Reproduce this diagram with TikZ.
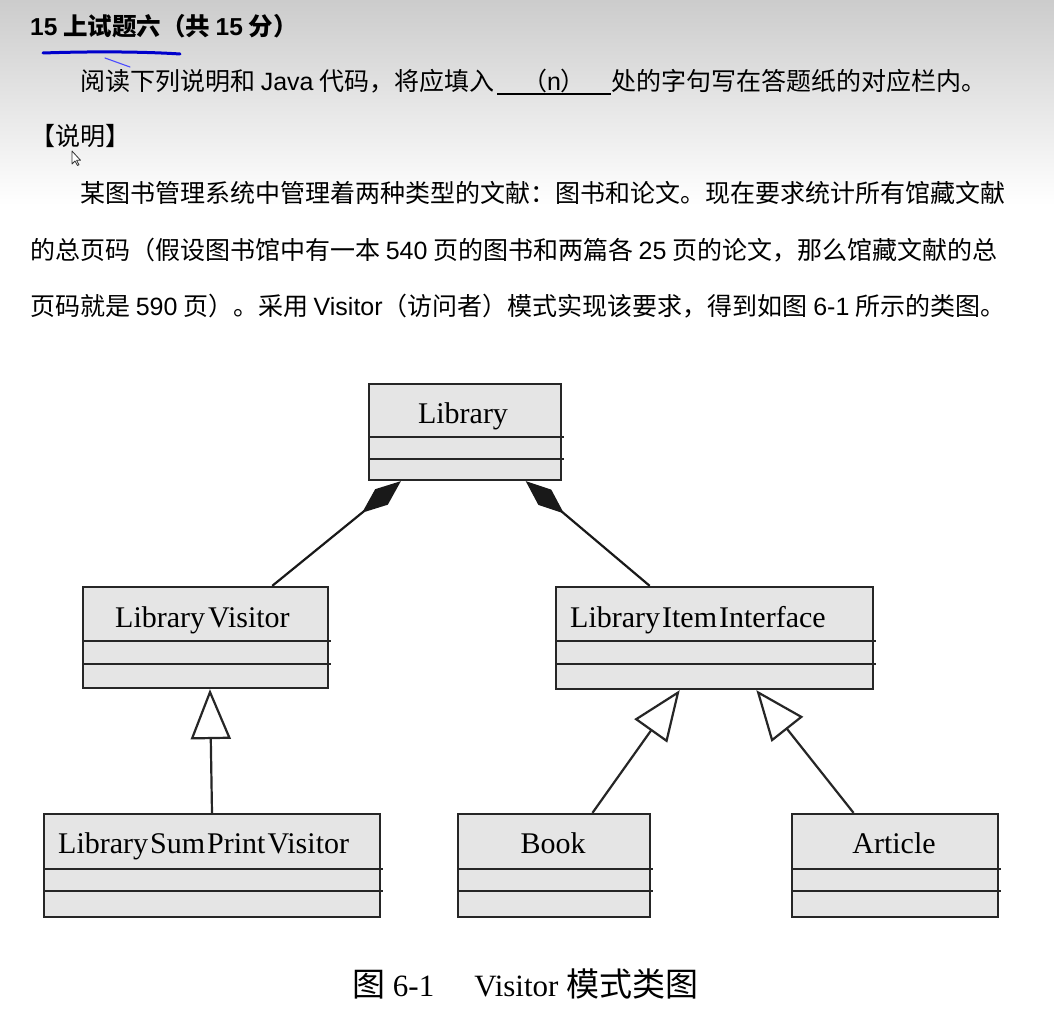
\documentclass[tikz,border=0pt]{standalone}
\usepackage{fontspec}
\setmainfont{Liberation Serif}
\newfontfamily\cjk{Noto Sans CJK SC}
\newfontfamily\lat{Liberation Sans}
\usetikzlibrary{arrows.meta,calc}
\newcommand\mytx{\cjk\fontsize{25}{25}\selectfont}
\newcommand\clsfont{\fontsize{30}{30}\selectfont}
\begin{document}
\begin{tikzpicture}[x=1pt,y=-1pt,
  cls/.style={draw=black!85, line width=2.3pt, fill=gray!20, inner sep=0pt},
  sepline/.style={draw=black!85, line width=2.3pt},
  lbl/.style={inner sep=0pt, anchor=base, font=\clsfont},
  txt/.style={inner sep=0pt, anchor=base west},
  comp/.style={draw=black!90, line width=2.2pt, -{Diamond[length=50pt,width=20pt]}},
  inh/.style={draw=black!85, line width=2.2pt, -{Triangle[open,length=50pt,width=40pt,fill=white]}}]
\useasboundingbox (0,0) rectangle (1054,1030);
\fill[white] (0,0) rectangle (1054,1030);
\shade[top color=gray!40, bottom color=white] (0,0) rectangle (1054,205);

% header text
\node[txt] (title) at (30,36) {\cjk\bfseries\fontsize{24.5}{24.5}\selectfont{\lat 15} 上试题六（共 {\lat 15} 分）};
\draw[blue!80!black, line width=3pt, line cap=round] (43,53) .. controls (100,51) and (150,52) .. (180,54);
\draw[blue!70, line width=1.1pt, line cap=round] (105,58) -- (130,67);
\node[txt] (intro) at (80,91) {\mytx 阅读下列说明和 {\lat Java} 代码，将应填入};
\node[inner sep=0pt, anchor=base] (blank) at (554,91) {\mytx （{\lat n}）};
\draw[black, line width=1.8pt] (497,94) -- (611,94);
\node[txt] (intro2) at (611,91) {\mytx 处的字句写在答题纸的对应栏内。};
\node[txt] (shuoming) at (30,146) {\mytx 【说明】};
\draw[fill=white, draw=black!80, line width=0.8pt, line join=round]
  (72,151) -- (72,164) -- (75,161) -- (77.5,165.5) -- (79,164.8) -- (76.6,160.3) -- (80.5,160.3) -- cycle;
\node[txt] (p1) at (80,202) {\mytx 某图书管理系统中管理着两种类型的文献：图书和论文。现在要求统计所有馆藏文献};
\node[txt] (p2) at (30,259) {\mytx 的总页码（假设图书馆中有一本 {\lat 540} 页的图书和两篇各 {\lat 25} 页的论文，那么馆藏文献的总};
\node[txt] (p3) at (30,315) {\mytx 页码就是 {\lat 590} 页）。采用 {\lat Visitor}（访问者）模式实现该要求，得到如图 {\lat 6-1} 所示的类图。};

% classes
\node[cls, minimum width=192pt, minimum height=96pt] (lib) at (465,432) {};
\draw[sepline] (369,437) -- (564,437);
\draw[sepline] (369,459) -- (564,459);
\node[lbl] (libt) at (463,423) {Library};

\node[cls, minimum width=245pt, minimum height=101pt] (lv) at (205.5,637.5) {};
\draw[sepline] (83,641) -- (331,641);
\draw[sepline] (83,664) -- (331,664);
\node[lbl, anchor=base west] (lvt) at (115,627) {Library\hspace{3pt}Visitor};

\node[cls, minimum width=336pt, minimum height=103pt] (lspv) at (212,865.5) {};
\draw[sepline] (44,869) -- (383,869);
\draw[sepline] (44,891) -- (383,891);
\node[lbl, anchor=base west] (lspvt) at (58,853) {Library\hspace{2pt}Sum\hspace{2pt}Print\hspace{2pt}Visitor};

\node[cls, minimum width=317pt, minimum height=102pt] (lii) at (714.5,638) {};
\draw[sepline] (556,641) -- (876,641);
\draw[sepline] (556,664) -- (876,664);
\node[lbl, anchor=base west] (liit) at (570,627) {Library\hspace{2pt}Item\hspace{2pt}Interface};

\node[cls, minimum width=192pt, minimum height=103pt] (book) at (554,865.5) {};
\draw[sepline] (458,869) -- (653,869);
\draw[sepline] (458,891) -- (653,891);
\node[lbl] (bookt) at (553,853) {Book};

\node[cls, minimum width=206pt, minimum height=103pt] (art) at (895,865.5) {};
\draw[sepline] (792,869) -- (1001,869);
\draw[sepline] (792,891) -- (1001,891);
\node[lbl] (artt) at (894,853) {Article};

% connectors
\draw[comp] ($(lv.north west)!0.77!(lv.north east)$) -- ($(lib.south west)!0.17!(lib.south east)$);
\draw[comp] ($(lii.north west)!0.297!(lii.north east)$) -- ($(lib.south west)!0.8125!(lib.south east)$);
\draw[inh] (lspv.north) -- ($(lv.south west)!0.518!(lv.south east)$);
\draw[inh] ($(book.north west)!0.698!(book.north east)$) -- ($(lii.south west)!0.391!(lii.south east)$);
\draw[inh] ($(art.north west)!0.301!(art.north east)$) -- ($(lii.south west)!0.631!(lii.south east)$);

% caption
\node[txt] (cap) at (352,996) {\fontsize{31}{31}\selectfont{\cjk\fontsize{33}{33}\selectfont 图} 6-1\hspace{40pt}Visitor {\cjk\fontsize{33}{33}\selectfont 模式类图}};
\end{tikzpicture}
\end{document}
